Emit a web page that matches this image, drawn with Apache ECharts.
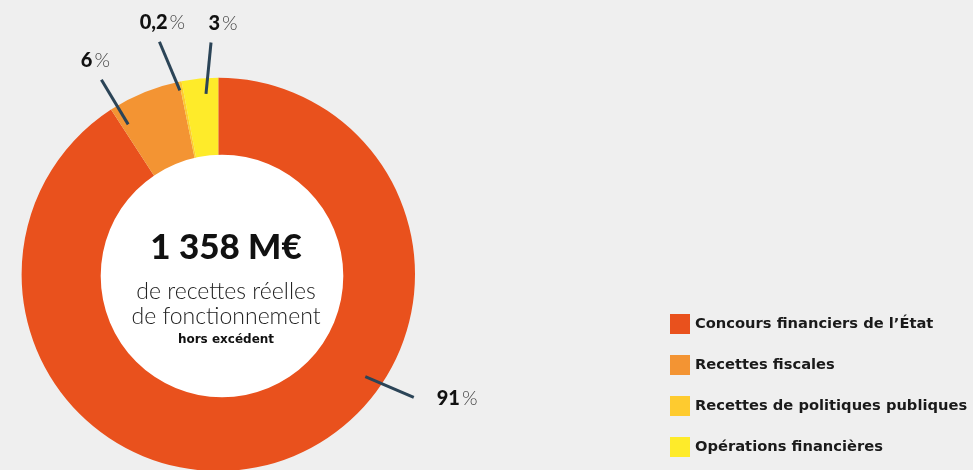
<!DOCTYPE html>
<html><head><meta charset="utf-8">
<script src="https://cdn.jsdelivr.net/npm/echarts@6/dist/echarts.min.js"></script>
<style>html,body{margin:0;padding:0;background:#efefef}#c{width:973px;height:470px}</style>
</head><body><div id="c"></div>
<script>
// ---- data ----
const categories = ['Concours financiers de l’État', 'Recettes fiscales', 'Recettes de politiques publiques', 'Opérations financières'];
const shares = [91, 6, 0.2, 3];
const shareLabels = ['91', '6', '0,2', '3'];
const totalLabel = '1 358 M€';
const centerLine1 = 'de recettes réelles';
const centerLine2 = 'de fonctionnement';
const centerLine3 = 'hors excédent';

// ---- style / layout ----
const colors = ['#e9511d', '#f39433', '#fecb2f', '#feeb2a'];
const CX = 218.3, CY = 274.4, R_OUT = 196.7;
const HOLE_CX = 222, HOLE_CY = 276, R_HOLE = 121.3;
const FONT = 'Lato, "DejaVu Sans", sans-serif';
// label leader placement: polar (deg clockwise from top, radius) relative to pie centre
const placements = [
  { a0: 124.8, r0: 179, a1: 122.2, r1: 231, dx: 23, dy: 1, align: 'left', va: 'middle' },
  { a0: -31, r0: 175, a1: -31, r1: 227, dx: -6, dy: -9, align: 'center', va: 'bottom' },
  { a0: -11.8, r0: 188, a1: -14.2, r1: 240, dx: 3, dy: -9, align: 'center', va: 'bottom' },
  { a0: -3.9, r0: 181, a1: -1.8, r1: 232, dx: 12, dy: -9, align: 'center', va: 'bottom' }
];
function polar(a, r) {
  const t = a * Math.PI / 180;
  return [CX + r * Math.sin(t), CY - r * Math.cos(t)];
}

const chart = echarts.init(document.getElementById('c'), null, { renderer: 'canvas' });
chart.setOption({
  backgroundColor: '#efefef',
  animation: false,
  color: colors,
  legend: {
    data: categories,
    orient: 'vertical',
    left: 670,
    top: 314,
    padding: 0,
    itemWidth: 20,
    itemHeight: 20,
    itemGap: 21,
    itemTextGap: 6,
    itemStyle: { borderWidth: 0 },
    icon: 'rect',
    selectedMode: false,
    textStyle: { fontFamily: '"DejaVu Sans", sans-serif', fontSize: 14.7, fontWeight: 'bold', color: '#1a1a1a' }
  },
  series: [
    {
      type: 'pie',
      center: [CX, CY],
      radius: [105, R_OUT],
      startAngle: 90,
      clockwise: true,
      avoidLabelOverlap: false,
      silent: true,
      z: 1,
      data: categories.map((n, i) => ({ name: n, value: shares[i] })),
      label: {
        show: true,
        position: 'outside',
        formatter: p => `{n|${shareLabels[p.dataIndex]}}{s| }{p|%}`,
        rich: {
          n: { fontFamily: FONT, fontSize: 20, fontWeight: 900, color: '#111' },
          s: { fontFamily: FONT, fontSize: 8 },
          p: { fontFamily: FONT, fontSize: 20, fontWeight: 300, color: '#444' }
        }
      },
      labelLine: { show: false },
      labelLayout: function (params) {
        const pl = placements[params.dataIndex];
        const e = polar(pl.a1, pl.r1);
        return { x: e[0] + pl.dx, y: e[1] + pl.dy, align: pl.align, verticalAlign: pl.va };
      }
    },
    {
      type: 'custom',
      coordinateSystem: 'none',
      silent: true,
      z: 5,
      data: shares.map((v, i) => [i]),
      renderItem: function (params) {
        const pl = placements[params.dataIndex];
        const s = polar(pl.a0, pl.r0);
        const e = polar(pl.a1, pl.r1);
        return {
          type: 'line',
          shape: { x1: s[0], y1: s[1], x2: e[0], y2: e[1] },
          style: { stroke: '#2b4457', lineWidth: 3, lineCap: 'butt' }
        };
      }
    },
    {
      type: 'pie',
      center: [HOLE_CX, HOLE_CY],
      radius: [0, R_HOLE],
      silent: true,
      z: 3,
      data: [{ name: 'centre', value: 1, itemStyle: { color: '#ffffff' } }],
      labelLine: { show: false },
      emphasis: { disabled: true },
      label: {
        show: true,
        position: 'center',
        padding: [14, 0, 0, 8],
        formatter: `{a|${totalLabel}}\n{b|${centerLine1}}\n{b|${centerLine2}}\n{c|${centerLine3}}`,
        rich: {
          a: { fontFamily: FONT, fontSize: 35, fontWeight: 900, color: '#111', lineHeight: 63, align: 'center' },
          b: { fontFamily: FONT, fontSize: 23, fontWeight: 300, color: '#222', lineHeight: 25, align: 'center' },
          c: { fontFamily: '"DejaVu Sans", sans-serif', fontSize: 12, fontWeight: 'bold', color: '#111', lineHeight: 20, align: 'center' }
        }
      }
    }
  ]
});
</script>
</body></html>
